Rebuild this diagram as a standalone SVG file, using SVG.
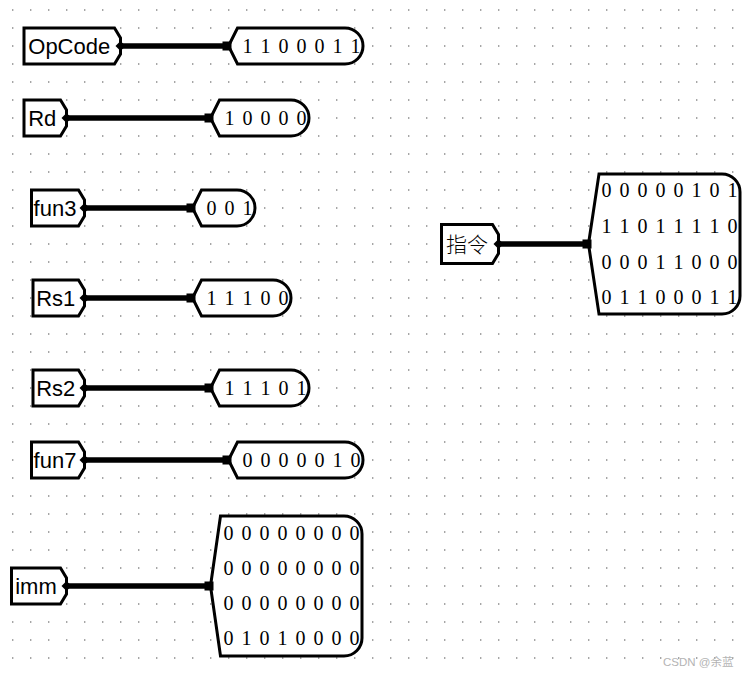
<svg xmlns="http://www.w3.org/2000/svg" width="747" height="674" viewBox="0 0 747 674">
<style>
.box{fill:#fff;stroke:#000;stroke-width:3;stroke-linejoin:miter}
.wire{stroke:#000;stroke-width:5.5;fill:none}
.lbl{font-family:"Liberation Sans",Arial,sans-serif;font-size:22px;fill:#000;text-anchor:middle}
.cjk{font-family:"Noto Sans CJK SC","Noto Sans CJK JP",sans-serif;font-size:21px;font-weight:300;fill:#000;text-anchor:middle}
.val{font-family:"Liberation Serif","Times New Roman",serif;font-size:20px;fill:#000;text-anchor:middle}
.wm{font-family:"Liberation Sans","Noto Sans CJK SC",sans-serif;font-size:11.5px;fill:#b4b4b4}
</style>
<defs>
<pattern id="grid" x="0" y="0" width="18" height="18" patternUnits="userSpaceOnUse">
<rect x="12" y="9.3" width="1.4" height="1.4" fill="#808080"/>
</pattern>
</defs>
<rect width="747" height="674" fill="#fff"/>
<rect width="747" height="674" fill="url(#grid)"/>

<g id="connectors">
<line class="wire" x1="120.5" y1="46" x2="228.5" y2="46"/>
<line class="wire" x1="66.5" y1="118" x2="210.5" y2="118"/>
<line class="wire" x1="84.5" y1="208" x2="192.5" y2="208"/>
<line class="wire" x1="84.5" y1="298" x2="192.5" y2="298"/>
<line class="wire" x1="84.5" y1="388" x2="210.5" y2="388"/>
<line class="wire" x1="84.5" y1="460" x2="228.5" y2="460"/>
<line class="wire" x1="66.5" y1="586" x2="210.5" y2="586"/>
<line class="wire" x1="498.5" y1="244" x2="588.5" y2="244"/>
</g>

<g id="tunnel-opcode">
<path class="box" d="M24,28 H114.5 L120.5,38 V54 L114.5,64 H24 Z"/>
<polygon points="115.5,46 120.5,41 125.5,46 120.5,51"/>
<text class="lbl" x="69.25" y="53.8">OpCode</text>
</g>
<g id="probe-opcode">
<path class="box" d="M228.5,46 L237.5,28 H345 A18,18 0 0 1 345,64 H237.5 Z"/>
<rect x="222.5" y="41.5" width="9" height="9"/>
<text class="val" x="247.5 265.5 283.5 301.5 319.5 337.5 355.5" y="52.5">1100011</text>
</g>

<g id="tunnel-rd">
<path class="box" d="M24,100 H60.5 L66.5,110 V126 L60.5,136 H24 Z"/>
<polygon points="61.5,118 66.5,113 71.5,118 66.5,123"/>
<text class="lbl" x="42.25" y="125.8">Rd</text>
</g>
<g id="probe-rd">
<path class="box" d="M210.5,118 L219.5,100 H291 A18,18 0 0 1 291,136 H219.5 Z"/>
<rect x="204.5" y="113.5" width="9" height="9"/>
<text class="val" x="229.5 247.5 265.5 283.5 301.5" y="124.5">10000</text>
</g>

<g id="tunnel-fun3">
<path class="box" d="M31.5,190 H78.5 L84.5,200 V216 L78.5,226 H31.5 Z"/>
<polygon points="79.5,208 84.5,203 89.5,208 84.5,213"/>
<text class="lbl" x="55" y="215.8">fun3</text>
</g>
<g id="probe-fun3">
<path class="box" d="M192.5,208 L201.5,190 H237 A18,18 0 0 1 237,226 H201.5 Z"/>
<rect x="186.5" y="203.5" width="9" height="9"/>
<text class="val" x="211.5 229.5 247.5" y="214.5">001</text>
</g>

<g id="tunnel-rs1">
<path class="box" d="M33,280 H78.5 L84.5,290 V306 L78.5,316 H33 Z"/>
<polygon points="79.5,298 84.5,293 89.5,298 84.5,303"/>
<text class="lbl" x="55.75" y="305.8">Rs1</text>
</g>
<g id="probe-rs1">
<path class="box" d="M192.5,298 L201.5,280 H273 A18,18 0 0 1 273,316 H201.5 Z"/>
<rect x="186.5" y="293.5" width="9" height="9"/>
<text class="val" x="211.5 229.5 247.5 265.5 283.5" y="304.5">11100</text>
</g>

<g id="tunnel-rs2">
<path class="box" d="M33,370 H78.5 L84.5,380 V396 L78.5,406 H33 Z"/>
<polygon points="79.5,388 84.5,383 89.5,388 84.5,393"/>
<text class="lbl" x="55.75" y="395.8">Rs2</text>
</g>
<g id="probe-rs2">
<path class="box" d="M210.5,388 L219.5,370 H291 A18,18 0 0 1 291,406 H219.5 Z"/>
<rect x="204.5" y="383.5" width="9" height="9"/>
<text class="val" x="229.5 247.5 265.5 283.5 301.5" y="394.5">11101</text>
</g>

<g id="tunnel-fun7">
<path class="box" d="M31.5,442 H78.5 L84.5,452 V468 L78.5,478 H31.5 Z"/>
<polygon points="79.5,460 84.5,455 89.5,460 84.5,465"/>
<text class="lbl" x="55" y="467.8">fun7</text>
</g>
<g id="probe-fun7">
<path class="box" d="M228.5,460 L237.5,442 H345 A18,18 0 0 1 345,478 H237.5 Z"/>
<rect x="222.5" y="455.5" width="9" height="9"/>
<text class="val" x="247.5 265.5 283.5 301.5 319.5 337.5 355.5" y="466.5">0000010</text>
</g>

<g id="tunnel-imm">
<path class="box" d="M11.5,568 H60.5 L66.5,578 V594 L60.5,604 H11.5 Z"/>
<polygon points="61.5,586 66.5,581 71.5,586 66.5,591"/>
<text class="lbl" x="36" y="593.8">imm</text>
</g>
<g id="probe-imm">
<path class="box" d="M210.5,586 L220.5,516 H344 A18,18 0 0 1 362,534 V638 A18,18 0 0 1 344,656 H220.5 Z"/>
<rect x="204.5" y="581.5" width="9" height="9"/>
<text class="val" x="228.5 246.5 264.5 282.5 300.5 318.5 336.5 354.5" y="540">00000000</text>
<text class="val" x="228.5 246.5 264.5 282.5 300.5 318.5 336.5 354.5" y="575">00000000</text>
<text class="val" x="228.5 246.5 264.5 282.5 300.5 318.5 336.5 354.5" y="610">00000000</text>
<text class="val" x="228.5 246.5 264.5 282.5 300.5 318.5 336.5 354.5" y="645">01010000</text>
</g>

<g id="tunnel-instr">
<path class="box" d="M441.5,224.5 H492.5 L498.5,234.5 V253.5 L492.5,263.5 H441.5 Z"/>
<polygon points="493.5,244 498.5,239 503.5,244 498.5,249"/>
<text class="cjk" x="467" y="251.7">指令</text>
</g>
<g id="probe-instr">
<path class="box" d="M588.5,244 L599,174 H722 A18,18 0 0 1 740,192 V296 A18,18 0 0 1 722,314 H599 Z"/>
<rect x="582.5" y="239.5" width="9" height="9"/>
<text class="val" x="606.5 624.5 642.5 660.5 678.5 696.5 714.5 732.5" y="197.4">00000101</text>
<text class="val" x="606.5 624.5 642.5 660.5 678.5 696.5 714.5 732.5" y="233.4">11011110</text>
<text class="val" x="606.5 624.5 642.5 660.5 678.5 696.5 714.5 732.5" y="269">00011000</text>
<text class="val" x="606.5 624.5 642.5 660.5 678.5 696.5 714.5 732.5" y="304">01100011</text>
</g>

<text class="wm" x="663" y="666">CSDN @余蓝</text>
</svg>
